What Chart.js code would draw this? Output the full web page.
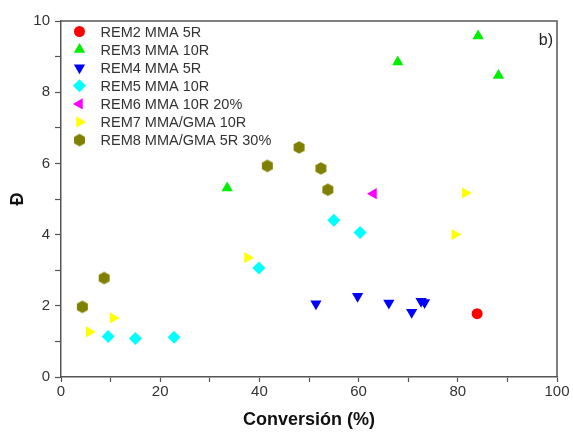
<!DOCTYPE html>
<html>
<head>
<meta charset="utf-8">
<script src="https://cdn.jsdelivr.net/npm/chart.js@4.4.0/dist/chart.umd.min.js"></script>
<style>
  html, body { margin: 0; padding: 0; background: #fff; }
</style>
</head>
<body>
<canvas id="myScatter" width="573" height="432"></canvas>
<script>
// -------------------------------------------------------------------------- Data

const seriesNames = [
    'REM2 MMA 5R',
    'REM3 MMA 10R',
    'REM4 MMA 5R',
    'REM5 MMA 10R',
    'REM6 MMA 10R 20%',
    'REM7 MMA/GMA 10R',
    'REM8 MMA/GMA 5R 30%'
]

const rem2X = [83.9]
const rem2Y = [1.78]
const rem3X = [33.5, 67.9, 84.1, 88.2]
const rem3Y = [5.31, 8.85, 9.58, 8.47]
const rem4X = [51.4, 59.8, 66.1, 70.7, 72.6, 73.3]
const rem4Y = [2.06, 2.27, 2.08, 1.82, 2.13, 2.09]
const rem5X = [9.5, 15.0, 22.8, 39.9, 55.0, 60.3]
const rem5Y = [1.14, 1.08, 1.12, 3.06, 4.40, 4.06]
const rem6X = [63.0]
const rem6Y = [5.15]
const rem7X = [5.7, 10.5, 37.6, 79.4, 81.5]
const rem7Y = [1.27, 1.66, 3.35, 4.0, 5.17]
const rem8X = [4.3, 8.7, 41.6, 48.0, 52.4, 53.8]
const rem8Y = [1.97, 2.78, 5.93, 6.45, 5.86, 5.26]

const xTicks = [0, 20, 40, 60, 80, 100]
const yTicks = [0, 2, 4, 6, 8, 10]

// -------------------------------------------------------------------------- Styles

let textGrey = '#333333'
let axisGrey = '#555555'

// hexagon marker (pointy top), Chart.js has none
function makeHexagon(color, r) {
    let c = document.createElement('canvas')
    c.width = Math.ceil(r * 2 + 2)
    c.height = Math.ceil(r * 2 + 2)
    let ctx = c.getContext('2d')
    ctx.fillStyle = color
    ctx.beginPath()
    for (let i = 0; i < 6; i++) {
        let a = Math.PI / 3 * i - Math.PI / 2
        let px = c.width / 2 + Math.cos(a) * r
        let py = c.height / 2 + Math.sin(a) * r
        if (i === 0) ctx.moveTo(px, py)
        else ctx.lineTo(px, py)
    }
    ctx.closePath()
    ctx.fill()
    return c
}

const hexOlive = makeHexagon('#808000', 6.3)

function toPoints(xs, ys) {
    return xs.map((x, i) => ({ x: x, y: ys[i] }))
}

function series(i, xs, ys, color, style, rotation, radius) {
    return {
        label: seriesNames[i],
        data: toPoints(xs, ys),
        backgroundColor: color,
        borderColor: color,
        borderWidth: 0,
        pointStyle: style,
        rotation: rotation,
        pointRadius: radius,
        pointHoverRadius: radius
    }
}

const datasets = [
    series(0, rem2X, rem2Y, '#ff0000', 'circle', 0, 5.5),
    series(1, rem3X, rem3Y, '#00ee00', 'triangle', 0, 6.5),
    series(2, rem4X, rem4Y, '#0000ff', 'triangle', 180, 6.5),
    series(3, rem5X, rem5Y, '#00ffff', 'rectRot', 0, 6.5),
    series(4, rem6X, rem6Y, '#ff00ff', 'triangle', 270, 6.5),
    series(5, rem7X, rem7Y, '#ffff00', 'triangle', 90, 6.5),
    series(6, rem8X, rem8Y, '#808000', hexOlive, 0, 6.5)
]

// -------------------------------------------------------------------------- Plugins

const framePlugin = {
    id: 'frame',
    afterDatasetsDraw(chart) {
        let a = chart.chartArea
        let ctx = chart.ctx
        ctx.save()
        ctx.strokeStyle = axisGrey
        ctx.lineWidth = 1.5
        ctx.beginPath()
        ctx.moveTo(a.left, a.top)
        ctx.lineTo(a.right, a.top)
        ctx.lineTo(a.right, a.bottom)
        ctx.stroke()

        // panel label
        ctx.fillStyle = '#222'
        ctx.font = '16px "Liberation Sans", Arial, sans-serif'
        ctx.textAlign = 'right'
        ctx.textBaseline = 'alphabetic'
        ctx.fillText('b)', a.right - 4, 45)
        ctx.restore()
    }
}

const legendPlugin = {
    id: 'insideLegend',
    afterDatasetsDraw(chart) {
        let ctx = chart.ctx
        ctx.save()
        ctx.font = '14.5px "Liberation Sans", Arial, sans-serif'
        ctx.textBaseline = 'middle'
        ctx.textAlign = 'left'
        chart.data.datasets.forEach((ds, i) => {
            let y = 31.5 + i * 18.1
            ctx.fillStyle = ds.backgroundColor
            ctx.strokeStyle = ds.borderColor
            Chart.helpers.drawPoint(ctx, {
                pointStyle: ds.pointStyle,
                rotation: ds.rotation,
                radius: ds.pointRadius,
                borderWidth: 0
            }, 79.5, y)
            ctx.fillStyle = textGrey
            ctx.fillText(ds.label, 100.5, y + 1)
        })
        ctx.restore()
    }
}

// -------------------------------------------------------------------------- Chart Config

const tickFont = { family: '"Liberation Sans", Arial, sans-serif', size: 15 }
const titleFont = { family: '"Liberation Sans", Arial, sans-serif', size: 18, weight: 'bold' }

const configScatter = {
    type: 'scatter',
    data: { datasets: datasets },
    options: {
        responsive: false,
        animation: false,
        layout: {
            padding: { top: 21, right: 16, left: 0, bottom: 0 }
        },
        plugins: {
            legend: { display: false },
            tooltip: { enabled: false }
        },
        scales: {
            x: {
                type: 'linear',
                min: 0,
                max: 100,
                afterFit(scale) { scale.height = 55 },
                border: { color: axisGrey, width: 1.5 },
                grid: {
                    drawOnChartArea: false,
                    tickLength: 5,
                    tickColor: axisGrey,
                    tickWidth: 1.2
                },
                ticks: {
                    stepSize: 10,
                    autoSkip: false,
                    maxRotation: 0,
                    padding: 1,
                    color: textGrey,
                    font: tickFont,
                    callback: (v) => xTicks.includes(v) ? v : ''
                },
                title: {
                    display: true,
                    text: 'Conversión (%)',
                    color: '#111',
                    font: titleFont,
                    padding: { top: 0, bottom: 1 }
                }
            },
            y: {
                type: 'linear',
                min: 0,
                max: 10,
                afterFit(scale) { scale.width = 61 },
                border: { color: axisGrey, width: 1.5 },
                grid: {
                    drawOnChartArea: false,
                    tickLength: 6,
                    tickColor: axisGrey,
                    tickWidth: 1.2
                },
                ticks: {
                    stepSize: 1,
                    autoSkip: false,
                    padding: 5,
                    color: textGrey,
                    font: tickFont,
                    callback: (v) => yTicks.includes(v) ? v : ''
                },
                title: {
                    display: true,
                    text: 'Đ',
                    color: '#111',
                    font: titleFont,
                    padding: { top: 7, bottom: 0 }
                }
            }
        }
    },
    plugins: [framePlugin, legendPlugin]
}

// -------------------------------------------------------------------------- Render Chart
let myScatter = new Chart(
    document.getElementById('myScatter'),
    configScatter
)
</script>
</body>
</html>
